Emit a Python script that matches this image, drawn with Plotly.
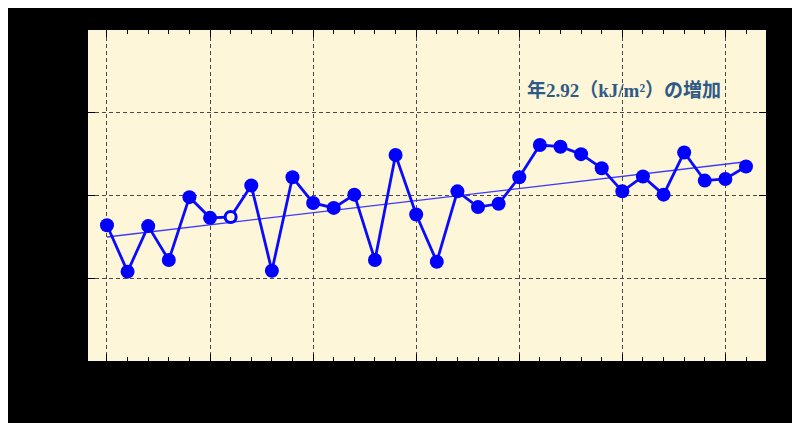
import numpy as np
import plotly.graph_objects as go

years = list(range(1981, 2013))
values = [1364, 1308, 1363, 1322, 1398, 1373, 1374, 1412, 1309, 1422,
          1391, 1385, 1401, 1322, 1449, 1377, 1320, 1405, 1386, 1390,
          1422, 1461, 1459, 1450, 1433, 1405, 1423, 1401, 1452, 1418,
          1420, 1435]
open_year = 1987
y_ticks = [1200, 1300, 1400, 1500, 1600]
label = "年2.92（kJ/m²）の増加"

slope, intercept = np.polyfit(years, values, 1)
trend = [slope * y + intercept for y in years]

fill = ["#fdf6d8" if y == open_year else "#0000ff" for y in years]
sizes = [11 if y == open_year else 14 for y in years]
lw = [3 if y == open_year else 0 for y in years]

fig = go.Figure()
fig.add_trace(go.Scatter(x=years, y=trend, mode="lines",
                         line=dict(color="#3a3aff", width=1.3),
                         hoverinfo="skip", showlegend=False))
fig.add_trace(go.Scatter(x=years, y=values, mode="lines+markers",
                         line=dict(color="#0a0aff", width=2.8),
                         marker=dict(size=sizes, color=fill, opacity=1,
                                     line=dict(color="#0000ff", width=lw)),
                         showlegend=False))

fig.add_annotation(x=years[-1] - 1.1, y=1528, xref="x", yref="y",
                   text=label, showarrow=False, xanchor="right", yanchor="middle",
                   font=dict(family="Liberation Serif, Noto Sans CJK JP", size=19,
                             color="#2f5a87", weight="bold"))

axis_common = dict(showline=True, linecolor="black", linewidth=1, mirror="ticks",
                   ticks="inside", tickcolor="black", tickfont=dict(color="black", size=14),
                   showgrid=True, gridcolor="#4a4a4a", gridwidth=1, griddash="4px,3px",
                   zeroline=False)

fig.update_xaxes(range=[years[0] - 0.92, years[-1] + 0.97], tick0=years[0], dtick=5,
                 ticklen=7,
                 minor=dict(dtick=1, ticks="inside", ticklen=4, tickcolor="black", showgrid=False),
                 **axis_common)
fig.update_yaxes(range=[y_ticks[0], y_ticks[-1]], tickvals=y_ticks, ticklen=7, **axis_common)

# page body adds an 8px offset, so the figure is drawn 8px smaller
fig.update_layout(width=792, height=415, paper_bgcolor="black", plot_bgcolor="#fdf6d8",
                  margin=dict(l=80, r=34, t=16, b=62))
fig.write_html("out.html")
